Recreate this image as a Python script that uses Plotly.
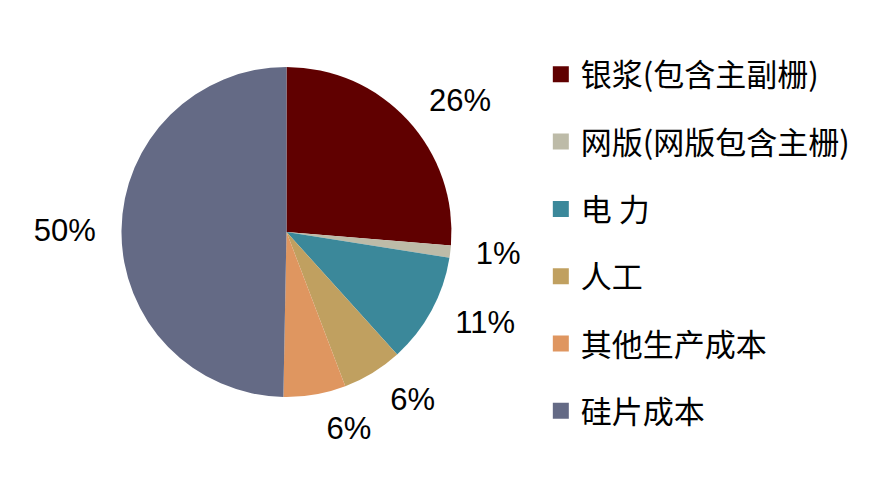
import plotly.graph_objects as go

categories = ["银浆(包含主副栅)", "网版(网版包含主栅)", "电 力", "人工", "其他生产成本", "硅片成本"]
shares = [26.3, 1.2, 10.8, 5.9, 6.1, 49.7]
colors = ["#600000", "#BDBBA8", "#3B889A", "#C0A060", "#DF9660", "#646A85"]

label_font = dict(family="Liberation Sans, Arial", size=31, color="black")
pie_domain = dict(x=[0.1264, 0.4966], y=[0.1862, 0.8766])
# slightly larger, invisible pies carry the percentage labels so they sit
# a bit further away from the edge, like in the original
label_domain = dict(x=[0.1080, 0.5150], y=[0.1506, 0.9121])
clear = ["rgba(0,0,0,0)"] * len(shares)

# label of 其他 goes on its own trace so plotly does not push it
# away from the 人工 label and draw a leader line
main_pos = ["outside"] * len(shares)
main_pos[4] = "none"
extra_pos = ["none"] * len(shares)
extra_pos[4] = "outside"

fig = go.Figure()
fig.add_trace(go.Pie(
    labels=categories, values=shares, sort=False, direction="clockwise", rotation=0,
    marker=dict(colors=colors, line=dict(width=0)),
    textinfo="none", domain=pie_domain, showlegend=False, hoverinfo="label+percent",
))
for pos in (main_pos, extra_pos):
    fig.add_trace(go.Pie(
        labels=categories, values=shares, sort=False, direction="clockwise", rotation=0,
        marker=dict(colors=clear, line=dict(width=0)),
        texttemplate="%{percent:.0%}", textposition=pos, textfont=label_font,
        domain=label_domain, showlegend=False, hoverinfo="skip",
    ))

# legend entries
for cat, col in zip(categories, colors):
    fig.add_trace(go.Scatter(
        x=[None], y=[None], mode="markers", name=cat, legendgroup=cat,
        marker=dict(symbol="square", size=16, color=col),
    ))

fig.update_layout(
    width=894, height=478,
    margin=dict(l=0, r=0, t=0, b=0),
    paper_bgcolor="white",
    plot_bgcolor="white",
    xaxis=dict(visible=False),
    yaxis=dict(visible=False),
    legend=dict(
        x=0.596, y=0.917, xanchor="left", yanchor="top",
        tracegroupgap=24,
        font=dict(family="Noto Sans CJK SC, Liberation Sans", size=31, color="black"),
        itemclick=False,
    ),
)

fig.write_html("out.html")
